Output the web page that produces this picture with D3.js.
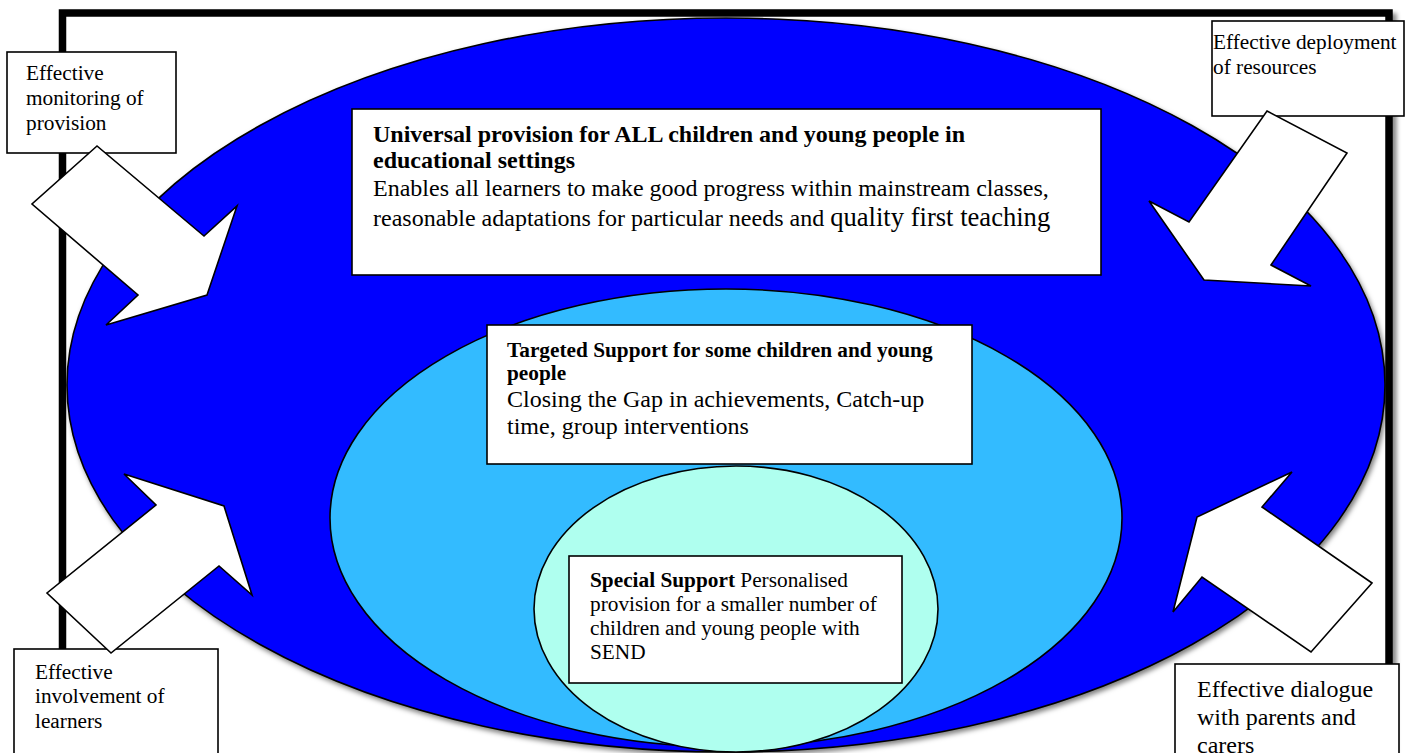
<!DOCTYPE html>
<html>
<head>
<meta charset="utf-8">
<script src="https://d3js.org/d3.v7.min.js"></script>
<style>
  html, body { margin: 0; padding: 0; background: #ffffff; }
  svg { display: block; }
</style>
</head>
<body>
<div id="diagram"></div>
<script>
const width = 1411;
const height = 753;

// ---- content ----
const layerNames = ["universal", "targeted", "special"];
const layerColors = ["#0000FF", "#33BBFF", "#AFFFEF"];

const universalLines = [
  [{ t: "Universal provision for ALL children and young people in", bold: true }],
  [{ t: "educational settings", bold: true }],
  [{ t: "Enables all learners to make good progress within mainstream classes," }],
  [{ t: "reasonable adaptations for particular needs and " }, { t: "quality first teaching", big: true }],
];
const targetedLines = [
  [{ t: "Targeted Support for some children and young", bold: true }],
  [{ t: "people", bold: true }],
  [{ t: "Closing the Gap in achievements, Catch-up" }],
  [{ t: "time, group interventions" }],
];
const specialLines = [
  [{ t: "Special Support", bold: true }, { t: " Personalised" }],
  [{ t: "provision for a smaller number of" }],
  [{ t: "children and young people with" }],
  [{ t: "SEND" }],
];

const labelNames = ["monitoring", "deployment", "involvement", "dialogue"];
const labelLines = [
  ["Effective", "monitoring of", "provision"],
  ["Effective deployment", "of resources"],
  ["Effective", "involvement of", "learners"],
  ["Effective dialogue", "with parents and", "carers"],
];

// ---- layout ----
const frame = { x: 62.5, y: 13, w: 1326.5, h: 800, stroke: 7.5 };

const ellipses = {
  universal: { cx: 726, cy: 385, rx: 659, ry: 367 },
  targeted: { cx: 726, cy: 518, rx: 396, ry: 229 },
  special: { cx: 736, cy: 609, rx: 202, ry: 143 },
};

const boxes = {
  universal: { x: 352, y: 109, w: 749, h: 166, tx: 373, base: [142, 168, 196, 226], size: 24, boldSize: 24, bigSize: 26.6 },
  targeted: { x: 487, y: 325, w: 485, h: 139, tx: 507, base: [357, 380, 407, 434], size: 24, boldSize: 21.3 },
  special: { x: 569, y: 556, w: 333, h: 127, tx: 590, base: [587, 611, 635, 659], size: 21.3, boldSize: 21.3 },
};

const labelBoxes = [
  { x: 7, y: 52, w: 169, h: 101, tx: 26, base: [80, 105, 130], size: 21.3 },
  { x: 1212, y: 21, w: 192, h: 95, tx: 1213, base: [49, 74], size: 21.3 },
  { x: 14, y: 649, w: 204, h: 120, tx: 35, base: [679, 703, 728], size: 21.3 },
  { x: 1175, y: 664, w: 224, h: 120, tx: 1197, base: [697, 725, 753], size: 24 },
];

// block arrows: tail, tail, shaft join, barb, tip, barb, shaft join
const arrowShapes = [
  [[97, 146], [32, 204], [138, 295], [106, 325], [207, 295], [237, 206], [204, 236]],
  [[1267, 111], [1347, 153], [1271, 265], [1311, 286], [1204, 280], [1149, 201], [1189, 222]],
  [[111, 653], [47, 593], [156, 505], [124, 474], [224, 506], [252, 595], [219, 566]],
  [[1372, 583], [1311, 652], [1202, 577], [1173, 612], [1197, 517], [1292, 472], [1262, 507]],
];

const serif = "'Liberation Serif', 'Times New Roman', Times, serif";

// ---- drawing ----
const svg = d3.select("#diagram")
  .append("svg")
  .attr("width", width)
  .attr("height", height)
  .attr("viewBox", `0 0 ${width} ${height}`);

const defs = svg.append("defs");

defs.append("filter")
  .attr("id", "frame-shadow")
  .attr("x", "-5%").attr("y", "-5%")
  .attr("width", "110%").attr("height", "110%")
  .append("feDropShadow")
  .attr("dx", 4).attr("dy", 4)
  .attr("stdDeviation", 2)
  .attr("flood-color", "#000")
  .attr("flood-opacity", 0.45);

defs.append("filter")
  .attr("id", "ellipse-shadow")
  .attr("x", "-5%").attr("y", "-5%")
  .attr("width", "110%").attr("height", "110%")
  .append("feDropShadow")
  .attr("dx", 2).attr("dy", 3)
  .attr("stdDeviation", 2.5)
  .attr("flood-color", "#000")
  .attr("flood-opacity", 0.5);

// outer frame
svg.append("rect")
  .attr("class", "frame")
  .attr("x", frame.x)
  .attr("y", frame.y)
  .attr("width", frame.w)
  .attr("height", frame.h)
  .attr("fill", "#ffffff")
  .attr("stroke", "#000000")
  .attr("stroke-width", frame.stroke)
  .attr("filter", "url(#frame-shadow)");

function drawLines(g, lines, box) {
  const text = g.append("text")
    .attr("font-family", serif)
    .attr("fill", "#000000");

  lines.forEach((runs, i) => {
    runs.forEach((run, j) => {
      const ts = text.append("tspan")
        .attr("font-size", run.big ? box.bigSize : (run.bold ? box.boldSize : box.size))
        .attr("font-weight", run.bold ? "bold" : "normal")
        .attr("xml:space", "preserve")
        .style("white-space", "pre")
        .text(run.t);
      if (j === 0) ts.attr("x", box.tx).attr("y", box.base[i]);
    });
  });
}

const layerContent = {
  universal: universalLines,
  targeted: targetedLines,
  special: specialLines,
};

// nested layers: ellipse then its text box
layerNames.forEach((name, i) => {
  const e = ellipses[name];
  const g = svg.append("g").attr("class", `layer layer-${name}`);

  g.append("ellipse")
    .attr("cx", e.cx)
    .attr("cy", e.cy)
    .attr("rx", e.rx)
    .attr("ry", e.ry)
    .attr("fill", layerColors[i])
    .attr("stroke", "#000000")
    .attr("stroke-width", 1.6)
    .attr("filter", i === 0 ? "url(#ellipse-shadow)" : null);

  const b = boxes[name];
  g.append("rect")
    .attr("x", b.x)
    .attr("y", b.y)
    .attr("width", b.w)
    .attr("height", b.h)
    .attr("fill", "#ffffff")
    .attr("stroke", "#000000")
    .attr("stroke-width", 1.6);

  drawLines(g, layerContent[name], b);
});

// corner labels
const labelG = svg.append("g").attr("class", "labels");
labelNames.forEach((name, i) => {
  const b = labelBoxes[i];
  const g = labelG.append("g").attr("class", `label label-${name}`);
  g.append("rect")
    .attr("x", b.x)
    .attr("y", b.y)
    .attr("width", b.w)
    .attr("height", b.h)
    .attr("fill", "#ffffff")
    .attr("stroke", "#000000")
    .attr("stroke-width", 1.6);
  drawLines(g, labelLines[i].map(t => [{ t }]), b);
});

// arrows pointing in
const arrowLine = d3.line().curve(d3.curveLinearClosed);
svg.append("g")
  .attr("class", "arrows")
  .selectAll("path")
  .data(arrowShapes)
  .join("path")
  .attr("d", d => arrowLine(d))
  .attr("fill", "#ffffff")
  .attr("stroke", "#000000")
  .attr("stroke-width", 1.6)
  .attr("stroke-linejoin", "miter");
</script>
</body>
</html>
